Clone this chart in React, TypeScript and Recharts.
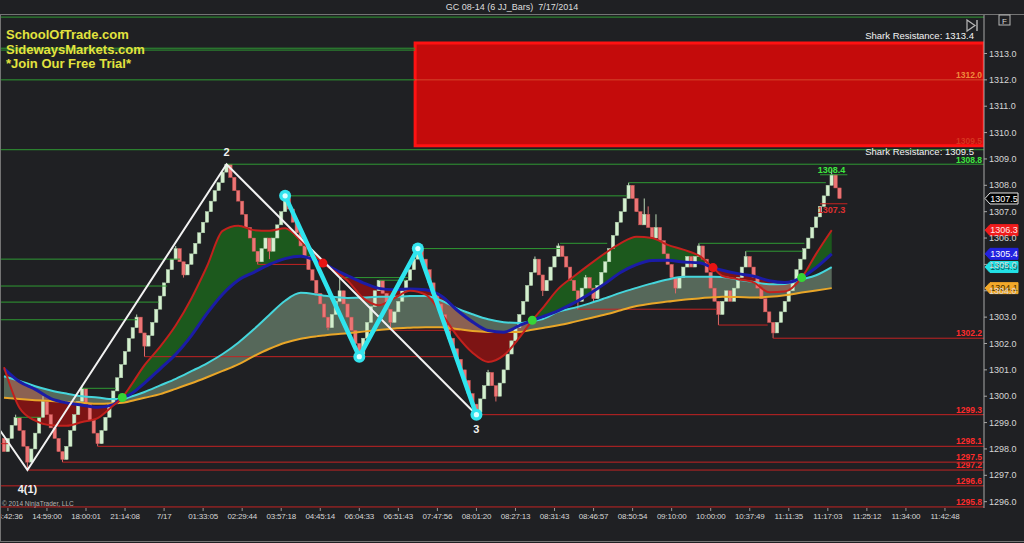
import React from 'react';
import {
  ComposedChart,
  Bar,
  Line,
  Area,
  Scatter,
  XAxis,
  YAxis,
  ReferenceLine,
  ReferenceArea,
  LabelList,
} from 'recharts';

const W = 1024;
const H = 543;
const BG = '#1f2023';
const FONT = '"Liberation Sans", Arial, sans-serif';

// Visible window: bar slots on x, price on y
const X_MIN = -1.025;
const X_MAX = 251;
const Y_MIN = 1295.76;
const Y_MAX = 1314.46;

// ---- JJ bars (6 tick) : close of every bar, oldest first ----
const firstOpen = 1298.4;
const closes = [
  1297.9, 1298.4, 1298.9, 1299.2, 1298.7, 1298.1, 1297.5, 1298.0, 1298.6, 1299.2,
  1299.8, 1299.3, 1298.8, 1298.4, 1297.9, 1297.6, 1298.1, 1298.7, 1299.3, 1299.8,
  1300.3, 1299.7, 1299.1, 1298.6, 1298.2, 1298.7, 1299.2, 1299.7, 1300.2, 1300.7,
  1301.2, 1301.7, 1302.2, 1302.6, 1303.0, 1302.4, 1301.9, 1302.3, 1302.8, 1303.3,
  1303.8, 1304.3, 1304.8, 1305.2, 1305.6, 1305.1, 1304.6, 1305.0, 1305.4, 1305.8,
  1306.2, 1306.6, 1307.0, 1307.4, 1307.8, 1308.1, 1308.5, 1308.8, 1308.3, 1307.8,
  1307.4, 1306.9, 1306.4, 1306.0, 1305.5, 1305.1, 1305.6, 1306.0, 1305.5, 1306.0,
  1306.5, 1307.0, 1307.5, 1307.1, 1306.6, 1306.2, 1305.7, 1305.3, 1304.8, 1304.4,
  1303.9, 1303.5, 1303.0, 1302.6, 1303.1, 1303.6, 1304.0, 1303.5, 1303.0, 1302.5,
  1302.0, 1301.6, 1302.2, 1302.8, 1303.4, 1304.0, 1304.4, 1303.9, 1303.3, 1302.8,
  1303.2, 1303.6, 1304.0, 1304.4, 1304.8, 1305.2, 1305.6, 1305.2, 1304.8, 1304.3,
  1303.9, 1303.5, 1303.1, 1302.7, 1302.2, 1301.8, 1301.4, 1301.0, 1300.6, 1300.1,
  1299.7, 1299.4, 1299.9, 1300.4, 1300.9, 1300.4, 1300.0, 1300.5, 1301.0, 1301.6,
  1302.1, 1302.6, 1303.1, 1303.6, 1304.2, 1304.7, 1305.2, 1304.6, 1304.0, 1304.4,
  1304.9, 1305.3, 1305.7, 1305.3, 1304.9, 1304.4, 1304.0, 1303.6, 1304.1, 1304.5,
  1304.1, 1303.7, 1304.2, 1304.7, 1305.1, 1305.6, 1306.1, 1306.6, 1307.0, 1307.5,
  1308.0, 1307.5, 1307.0, 1306.5, 1306.9, 1306.4, 1306.0, 1306.4, 1305.9, 1305.4,
  1305.0, 1304.5, 1304.1, 1304.5, 1304.9, 1305.3, 1304.9, 1305.3, 1305.7, 1305.2,
  1304.7, 1304.1, 1303.6, 1303.1, 1303.6, 1304.0, 1303.6, 1304.1, 1304.5, 1304.9,
  1305.3, 1304.9, 1304.5, 1304.1, 1303.7, 1303.2, 1302.8, 1302.4, 1302.8, 1303.2,
  1303.6, 1304.0, 1304.4, 1304.8, 1305.2, 1305.6, 1306.0, 1306.4, 1306.8, 1307.2,
  1307.6, 1308.0, 1308.4, 1307.9, 1307.5,
];

// wick extremes beyond the body: [bar, price]
const wickHighs: [number, number][] = [
  [3, 1299.3], [10, 1300.0], [20, 1300.4], [34, 1303.1], [44, 1305.7], [72, 1307.6],
  [86, 1304.5], [106, 1305.7], [124, 1301.0], [136, 1305.3], [142, 1305.8], [149, 1304.6],
  [160, 1308.1], [164, 1307.5], [165, 1307.2], [167, 1306.9], [178, 1305.8], [190, 1305.5],
  [212, 1308.6], [213, 1308.3],
];
const wickLows: [number, number][] = [
  [6, 1297.2], [15, 1297.5], [24, 1298.1], [36, 1301.5], [46, 1304.5], [65, 1305.0],
  [68, 1305.2], [83, 1302.5], [91, 1301.5], [99, 1302.5], [121, 1299.3], [126, 1299.8],
  [138, 1303.8], [147, 1303.3], [151, 1303.6], [172, 1303.9], [183, 1302.7], [197, 1302.2],
];

// ---- time axis: label k sits on bar tickBars[k] ----
const timeLabels = [
  '14:42:36', '14:59:00', '18:00:01', '21:14:08', '7/17', '01:33:05', '02:29:44', '03:57:18',
  '04:45:14', '06:04:33', '06:51:43', '07:47:56', '08:01:20', '08:27:13', '08:31:43', '08:46:57',
  '08:50:54', '09:10:00', '10:00:00', '10:37:49', '11:11:35', '11:17:03', '11:25:12', '11:34:00',
  '11:42:48',
];
const tickBars = [
  1, 11, 21, 31, 41, 51, 61, 71, 81, 91, 101, 111, 121, 131, 141, 151, 161, 171, 181, 191,
  201, 211, 221, 231, 241,
];
const priceTicks = [
  1296, 1297, 1298, 1299, 1300, 1301, 1302, 1303, 1304, 1305, 1306, 1307, 1308, 1309, 1310,
  1311, 1312, 1313,
];

// ---- moving averages, sampled on bar positions ----
const maBar = [
  0, 4, 8, 12, 16, 20, 24, 28, 30.3, 32, 36, 40, 44, 48, 52, 56, 60, 64, 68, 72, 76, 80, 81.7,
  84, 88, 92, 96, 100, 104, 108, 112, 116, 120, 124, 128, 132, 135.3, 138, 142, 146, 150, 154,
  158, 162, 166, 170, 174, 178, 181.6, 184, 188, 192, 196, 200, 204.3, 208, 212,
];
const maRed = [
  1301.1, 1299.55, 1299.07, 1298.9, 1298.88, 1299.02, 1299.17, 1299.65, 1299.95, 1300.3, 1301.18,
  1301.88, 1302.69, 1303.71, 1304.93, 1306.27, 1306.47, 1306.3, 1306.28, 1306.37, 1305.9, 1305.3,
  1305.05, 1304.8, 1304.38, 1303.72, 1303.45, 1303.72, 1304.0, 1303.85, 1303.15, 1302.3, 1301.65,
  1301.3, 1301.55, 1302.22, 1302.88, 1303.35, 1304.08, 1304.55, 1305.0, 1305.43, 1305.81, 1306.05,
  1306.0, 1305.74, 1305.56, 1305.33, 1304.88, 1304.56, 1304.44, 1304.32, 1303.94, 1303.97, 1304.5,
  1305.4, 1306.3,
];
const maBlue = [
  1301.05, 1300.55, 1300.26, 1299.91, 1299.75, 1299.66, 1299.58, 1299.68, 1299.95, 1300.04, 1300.5,
  1301.04, 1301.59, 1302.3, 1303.14, 1303.87, 1304.4, 1304.7, 1305.0, 1305.22, 1305.31, 1305.14,
  1305.05, 1304.86, 1304.57, 1304.3, 1304.09, 1304.04, 1304.07, 1304.04, 1303.8, 1303.27, 1302.82,
  1302.49, 1302.43, 1302.68, 1302.88, 1303.02, 1303.25, 1303.54, 1303.89, 1304.28, 1304.7, 1304.99,
  1305.15, 1305.16, 1305.09, 1305.06, 1304.88, 1304.78, 1304.65, 1304.55, 1304.38, 1304.31, 1304.5,
  1304.88, 1305.4,
];
const maCyan = [
  1300.76, 1300.58, 1300.38, 1300.22, 1300.1, 1300.0, 1299.95, 1299.89, 1299.89, 1299.96, 1300.16,
  1300.41, 1300.66, 1300.95, 1301.25, 1301.6, 1302.03, 1302.54, 1303.09, 1303.62, 1303.92, 1303.86,
  1303.82, 1303.77, 1303.73, 1303.74, 1303.77, 1303.77, 1303.8, 1303.8, 1303.63, 1303.33, 1303.11,
  1302.92, 1302.81, 1302.78, 1302.85, 1302.93, 1303.21, 1303.35, 1303.52, 1303.72, 1303.93, 1304.11,
  1304.28, 1304.43, 1304.53, 1304.53, 1304.53, 1304.52, 1304.42, 1304.33, 1304.25, 1304.26, 1304.43,
  1304.59, 1304.9,
];
const maOrange = [
  1299.94, 1299.89, 1299.85, 1299.82, 1299.78, 1299.75, 1299.71, 1299.73, 1299.75, 1299.8, 1299.94,
  1300.08, 1300.28, 1300.49, 1300.72, 1300.96, 1301.21, 1301.52, 1301.8, 1302.03, 1302.18, 1302.27,
  1302.3, 1302.34, 1302.39, 1302.45, 1302.51, 1302.57, 1302.6, 1302.62, 1302.62, 1302.55, 1302.47,
  1302.44, 1302.44, 1302.44, 1302.52, 1302.59, 1302.69, 1302.82, 1302.96, 1303.1, 1303.26, 1303.42,
  1303.52, 1303.59, 1303.66, 1303.71, 1303.75, 1303.77, 1303.76, 1303.74, 1303.77, 1303.83, 1303.93,
  1304.01, 1304.1,
];

// ---- swing structure ----
const waveBars = [-1.0, 6, 57, 121];
const wavePrices = [1298.7, 1297.2, 1308.8, 1299.3];
const waveNames = ['', '4(1)', '2', '3'];
const swingBars = [72, 91, 106, 121];
const swingPrices = [1307.6, 1301.5, 1305.6, 1299.3];
const crossUpBars = [30.3, 135.3, 204.3];
const crossUpPrices = [1299.95, 1302.88, 1304.5];
const crossDownBars = [81.7, 181.6];
const crossDownPrices = [1305.05, 1304.88];

// ---- Shark resistance zone ----
const sharkTop = 1313.4;
const sharkBottom = 1309.5;
const sharkStartBar = 105.3;
const sharkMid = 1312.0;

// ---- swing levels: [price, from bar, to bar] ----
const resistanceLevels: [number, number, number][] = [
  [1314.38, X_MIN, X_MAX], [1313.2, X_MIN, 105.3], [1313.13, X_MIN, 105.3],
  [1312.0, X_MIN, 105.3], [1309.35, X_MIN, X_MAX], [1308.8, 57, X_MAX],
  [1308.1, 160, 210.5], [1307.6, 72, 159.6], [1305.6, 106, 142.4], [1305.8, 142.4, 154.5],
  [1305.8, 178, 205], [1305.5, 190, 204.5], [1305.2, X_MIN, 45.1], [1304.18, X_MIN, 41.8],
  [1303.57, X_MIN, 39.6], [1302.9, X_MIN, 34.1], [1300.3, 20, 28.6], [1299.2, 3, 9.6],
  [1304.5, 86, 103.5], [1304.4, 96, 103], [1308.4, 209, 216],
];
const supportLevels: [number, number, number][] = [
  [1296.6, X_MIN, X_MAX], [1295.8, X_MIN, X_MAX], [1297.2, 6, X_MAX], [1297.5, 15, X_MAX],
  [1298.1, 24, X_MAX], [1299.3, 121, X_MAX], [1302.2, 197, X_MAX], [1301.5, 36, 115.8],
  [1305.0, 65, 77.5], [1302.5, 99, 116.8], [1303.3, 147, 182.6], [1302.7, 183, 195.6],
  [1307.3, 209, 216], [1298.2, X_MIN, 1.5],
];
const labelledSupports = [1302.2, 1299.3, 1298.1, 1297.5, 1297.2, 1296.6, 1295.8];

// ---------------- derived rows ----------------
const highMap = new Map(wickHighs);
const lowMap = new Map(wickLows);
const candles = closes.map((c, i) => {
  const open = i === 0 ? firstOpen : closes[i - 1];
  const high = Math.max(open, c, highMap.get(i) ?? -Infinity);
  const low = Math.min(open, c, lowMap.get(i) ?? Infinity);
  return { x: i, open, close: c, high, low, range: [low, high] };
});
const maRows = maBar.map((x, k) => ({
  x,
  red: maRed[k],
  blue: maBlue[k],
  cyan: maCyan[k],
  orange: maOrange[k],
}));
const waveRows = waveBars.map((x, k) => ({ x, y: wavePrices[k], name: waveNames[k] }));
const swingRows = swingBars.map((x, k) => ({ x, y: swingPrices[k] }));
const crossUpRows = crossUpBars.map((x, k) => ({ x, y: crossUpPrices[k] }));
const crossDownRows = crossDownBars.map((x, k) => ({ x, y: crossDownPrices[k] }));

const lastClose = closes[closes.length - 1];
const last = (a: number[]) => a[a.length - 1];

// ---------------- drawing helpers ----------------
const BODY_W = 3.4;

function Candle(props: any) {
  const { x, y, width, height, payload } = props;
  if (!payload || !isFinite(y) || !isFinite(height)) return null;
  const top = Math.min(y, y + height);
  const h = Math.abs(height);
  const span = payload.high - payload.low || 1;
  const py = (p: number) => top + ((payload.high - p) / span) * h;
  const up = payload.close >= payload.open;
  const bTop = py(Math.max(payload.open, payload.close));
  const bBot = py(Math.min(payload.open, payload.close));
  const cx = x + (width || 0) / 2;
  return (
    <g>
      <line x1={cx} x2={cx} y1={top} y2={top + h} stroke={up ? '#bcd8b8' : '#dc6a6a'} strokeWidth={1} />
      <rect
        x={cx - BODY_W / 2}
        y={bTop}
        width={BODY_W}
        height={Math.max(1, bBot - bTop)}
        fill={up ? '#d4efcf' : '#ec7575'}
        stroke={up ? '#a9caa5' : '#c95252'}
        strokeWidth={0.5}
      />
    </g>
  );
}

const TimeTick = (props: any) => {
  const { x, y, payload } = props;
  const k = tickBars.indexOf(payload.value);
  return (
    <text x={x} y={y} dy="0.71em" textAnchor="middle" fontSize={8} letterSpacing={-0.2} fill="#d6d6d6" fontFamily={FONT}>
      {k >= 0 ? timeLabels[k] : ''}
    </text>
  );
};

const PriceTick = (props: any) => {
  const { x, y, payload } = props;
  return (
    <text x={x} y={y} dy="0.35em" textAnchor="start" fontSize={9} fill="#d6d6d6" fontFamily={FONT}>
      {Number(payload.value).toFixed(1)}
    </text>
  );
};

const edgeLabel = (text: string, color: string, below = false, size = 8.5, opacity = 1, lift = 2) => (props: any) => {
  const vb = props.viewBox || {};
  return (
    <text
      x={vb.x + vb.width - 2}
      y={below ? vb.y + 9 : vb.y - lift}
      textAnchor="end"
      fontSize={size}
      fontWeight="bold"
      fill={color}
      fillOpacity={opacity}
      fontFamily={FONT}
    >
      {text}
    </text>
  );
};

const sharkLabel = (text: string, below: boolean) => (props: any) => {
  const vb = props.viewBox || {};
  return (
    <text
      x={vb.x + vb.width - 10}
      y={below ? vb.y + 9.5 : vb.y - 4}
      textAnchor="end"
      fontSize={9.5}
      fill="#f4f4f4"
      fontFamily={FONT}
    >
      {text}
    </text>
  );
};

const tagLabel = (text: string, bg: string, fg: string, border: string) => (props: any) => {
  const vb = props.viewBox || {};
  const x0 = vb.x + vb.width + 1;
  const yy = vb.y;
  const h = 11;
  const w = 28;
  const pts = `${x0},${yy} ${x0 + 5},${yy - h / 2} ${x0 + 5 + w},${yy - h / 2} ${x0 + 5 + w},${yy + h / 2} ${x0 + 5},${yy + h / 2}`;
  return (
    <g>
      <polygon points={pts} fill={bg} stroke={border} strokeWidth={1} />
      <text x={x0 + 5 + w / 2} y={yy} dy="0.36em" textAnchor="middle" fontSize={9} fill={fg} fontFamily={FONT}>
        {text}
      </text>
    </g>
  );
};

const WaveLabel = (props: any) => {
  const { x, y, value } = props;
  if (!value) return null;
  const above = value === '2';
  return (
    <text
      x={x}
      y={above ? y - 8 : y + (value === '3' ? 18 : 23)}
      textAnchor="middle"
      fontSize={11}
      fontWeight="bold"
      fill="#f0f0f0"
      fontFamily={FONT}
    >
      {value}
    </text>
  );
};

const SwingDot = (props: any) => {
  const { cx, cy } = props;
  if (!isFinite(cx) || !isFinite(cy)) return null;
  return (
    <g>
      <circle cx={cx} cy={cy} r={6} fill="#33e4ee" />
      <circle cx={cx} cy={cy} r={2.6} fill="#dcffff" />
    </g>
  );
};

export default function App() {
  return (
    <div
      style={{
        position: 'absolute',
        left: 0,
        top: 0,
        width: W,
        height: H,
        background: BG,
        overflow: 'hidden',
        fontFamily: FONT,
      }}
    >
      <div style={{ position: 'absolute', left: 0, top: 0 }}>
        <ComposedChart width={W} height={H} data={candles} margin={{ top: 15, right: 0, bottom: 0, left: 0 }}>
          <XAxis
            dataKey="x"
            type="number"
            domain={[X_MIN, X_MAX]}
            allowDataOverflow
            ticks={tickBars}
            interval={0}
            height={35}
            axisLine={false}
            tickLine={{ stroke: '#9a9a9a' }}
            tickSize={3}
            tick={TimeTick}
          />
          <YAxis
            orientation="right"
            type="number"
            domain={[Y_MIN, Y_MAX]}
            allowDataOverflow
            ticks={priceTicks}
            interval={0}
            width={40}
            axisLine={{ stroke: '#a8a8a8' }}
            tickLine={{ stroke: '#a8a8a8' }}
            tickSize={3}
            tickMargin={2}
            tick={PriceTick}
          />

          {/* trend ribbon between fast (red) and slow (blue) averages */}
          <Area
            data={maRows}
            dataKey={(d: any) => [d.blue, Math.max(d.red, d.blue)]}
            type="monotone"
            stroke="none"
            fill="#1c591d"
            fillOpacity={1}
            dot={false}
            activeDot={false}
            isAnimationActive={false}
          />
          <Area
            data={maRows}
            dataKey={(d: any) => [Math.min(d.red, d.blue), d.blue]}
            type="monotone"
            stroke="none"
            fill="#7d1414"
            fillOpacity={1}
            dot={false}
            activeDot={false}
            isAnimationActive={false}
          />
          {/* band between cyan and orange averages */}
          <Area
            data={maRows}
            dataKey={(d: any) => [d.orange, d.cyan]}
            type="monotone"
            stroke="none"
            fill="#9cc4a2"
            fillOpacity={0.44}
            dot={false}
            activeDot={false}
            isAnimationActive={false}
          />

          {/* swing levels */}
          {resistanceLevels.map(([p, a, b], k) => (
            <ReferenceLine
              key={`r${k}`}
              segment={[{ x: a, y: p }, { x: b, y: p }]}
              stroke="#2f9a33"
              strokeWidth={1}
              ifOverflow="hidden"
              label={
                p === 1308.8 && b === X_MAX
                  ? edgeLabel('1308.8', '#3ee83e', false, 8.5, 1, 1)
                  : p === 1308.4
                  ? edgeLabel('1308.4', '#3ee83e', false, 9)
                  : undefined
              }
            />
          ))}
          {supportLevels.map(([p, a, b], k) => (
            <ReferenceLine
              key={`s${k}`}
              segment={[{ x: a, y: p }, { x: b, y: p }]}
              stroke="#c42222"
              strokeWidth={1}
              ifOverflow="hidden"
              label={
                b === X_MAX && labelledSupports.includes(p)
                  ? edgeLabel(p.toFixed(1), '#ff2b2b')
                  : p === 1307.3
                  ? edgeLabel('1307.3', '#e03030', true, 9)
                  : undefined
              }
            />
          ))}

          {/* Shark resistance zone */}
          <ReferenceArea
            x1={sharkStartBar}
            x2={X_MAX}
            y1={sharkBottom}
            y2={sharkTop}
            fill="#c40b0b"
            fillOpacity={1}
            stroke="#ff1212"
            strokeWidth={3}
            ifOverflow="hidden"
          />
          <ReferenceLine
            segment={[{ x: sharkStartBar, y: sharkMid }, { x: X_MAX, y: sharkMid }]}
            stroke="#e8804a"
            strokeOpacity={0.5}
            ifOverflow="hidden"
            label={edgeLabel(sharkMid.toFixed(1), '#f08a3c')}
          />
          <ReferenceLine
            segment={[{ x: sharkStartBar, y: sharkBottom }, { x: X_MAX, y: sharkBottom }]}
            strokeOpacity={0}
            ifOverflow="hidden"
            label={edgeLabel(sharkBottom.toFixed(1), '#f06a3a', false, 8.5, 0.45)}
          />
          <ReferenceLine
            y={sharkTop}
            strokeOpacity={0}
            ifOverflow="visible"
            label={sharkLabel(`Shark Resistance: ${sharkTop.toFixed(1)}`, false)}
          />
          <ReferenceLine
            y={sharkBottom}
            strokeOpacity={0}
            ifOverflow="visible"
            label={sharkLabel(`Shark Resistance: ${sharkBottom.toFixed(1)}`, true)}
          />

          {/* price bars */}
          <Bar dataKey="range" barSize={3} shape={Candle} isAnimationActive={false} />

          {/* moving averages */}
          <Line data={maRows} dataKey="orange" type="monotone" stroke="#e9a628" strokeWidth={2} dot={false} activeDot={false} isAnimationActive={false} />
          <Line data={maRows} dataKey="cyan" type="monotone" stroke="#45d6dc" strokeWidth={2} dot={false} activeDot={false} isAnimationActive={false} />
          <Line data={maRows} dataKey="blue" type="monotone" stroke="#1b1ca6" strokeWidth={3} dot={false} activeDot={false} isAnimationActive={false} />
          <Line data={maRows} dataKey="red" type="monotone" stroke="#c2211d" strokeWidth={2} dot={false} activeDot={false} isAnimationActive={false} />

          {/* wave count */}
          <Line data={waveRows} dataKey="y" type="linear" stroke="#f2f2f2" strokeWidth={2} dot={false} activeDot={false} isAnimationActive={false}>
            <LabelList dataKey="name" content={WaveLabel} />
          </Line>
          <Line data={swingRows} dataKey="y" type="linear" stroke="#2ee4ee" strokeWidth={4.5} dot={SwingDot} activeDot={false} isAnimationActive={false} />

          {/* average crossovers */}
          <Scatter
            data={crossUpRows}
            dataKey="y"
            isAnimationActive={false}
            shape={(p: any) => <circle cx={p.cx} cy={p.cy} r={4.5} fill="#36d436" />}
          />
          <Scatter
            data={crossDownRows}
            dataKey="y"
            isAnimationActive={false}
            shape={(p: any) => <circle cx={p.cx} cy={p.cy} r={4.5} fill="#e81414" />}
          />

          {/* last-value tags on the price axis */}
          <ReferenceLine y={lastClose} strokeOpacity={0} ifOverflow="visible" label={tagLabel(lastClose.toFixed(1), '#000000', '#ffffff', '#e8e8e8')} />
          <ReferenceLine y={last(maRed)} strokeOpacity={0} ifOverflow="visible" label={tagLabel(last(maRed).toFixed(1), '#f01c1c', '#ffe8e8', '#f01c1c')} />
          <ReferenceLine y={last(maBlue)} strokeOpacity={0} ifOverflow="visible" label={tagLabel(last(maBlue).toFixed(1), '#2222e0', '#ffffff', '#2222e0')} />
          <ReferenceLine y={last(maCyan)} strokeOpacity={0} ifOverflow="visible" label={tagLabel(last(maCyan).toFixed(1), '#22e2e6', '#0a5a60', '#22e2e6')} />
          <ReferenceLine y={last(maOrange)} strokeOpacity={0} ifOverflow="visible" label={tagLabel(last(maOrange).toFixed(1), '#f2a92a', '#4a3000', '#f2a92a')} />
        </ComposedChart>
      </div>

      {/* window frame */}
      <div style={{ position: 'absolute', left: 0, top: 14, width: W, height: 1, background: '#747474' }} />
      <div style={{ position: 'absolute', left: 0, top: 14, width: 1, height: 528, background: '#747474' }} />
      <div style={{ position: 'absolute', left: 0, top: 541, width: W, height: 1, background: '#747474' }} />

      {/* title */}
      <div
        style={{
          position: 'absolute',
          left: 0,
          top: 1,
          width: W,
          textAlign: 'center',
          color: '#dedede',
          fontSize: 9,
          lineHeight: '12px',
          whiteSpace: 'pre',
        }}
      >
        {'GC 08-14 (6 JJ_Bars)  7/17/2014'}
      </div>

      {/* promo text */}
      <div
        style={{
          position: 'absolute',
          left: 6,
          top: 28,
          color: '#e3e33e',
          fontWeight: 'bold',
          fontSize: 13,
          lineHeight: '14.5px',
        }}
      >
        SchoolOfTrade.com
        <br />
        SidewaysMarkets.com
        <br />
        *Join Our Free Trial*
      </div>

      {/* copyright */}
      <div style={{ position: 'absolute', left: 2, top: 500, color: '#b4b4b4', fontSize: 6.5, lineHeight: '8px' }}>
        © 2014 NinjaTrader, LLC
      </div>

      {/* toolbar glyphs */}
      <svg style={{ position: 'absolute', left: 964, top: 18 }} width={20} height={16}>
        <polygon points="3,2 11,7.5 3,13" fill="none" stroke="#b8b8b8" strokeWidth={1.2} />
        <line x1={13} x2={13} y1={2} y2={13} stroke="#b8b8b8" strokeWidth={1.4} />
      </svg>
      <svg style={{ position: 'absolute', left: 998, top: 14 }} width={14} height={13}>
        <rect x={1} y={1} width={11} height={10} fill="none" stroke="#b8b8b8" strokeWidth={1} />
        <text x={6.5} y={9.5} textAnchor="middle" fontSize={8} fill="#d8d8d8" fontFamily={FONT}>
          F
        </text>
      </svg>
    </div>
  );
}
